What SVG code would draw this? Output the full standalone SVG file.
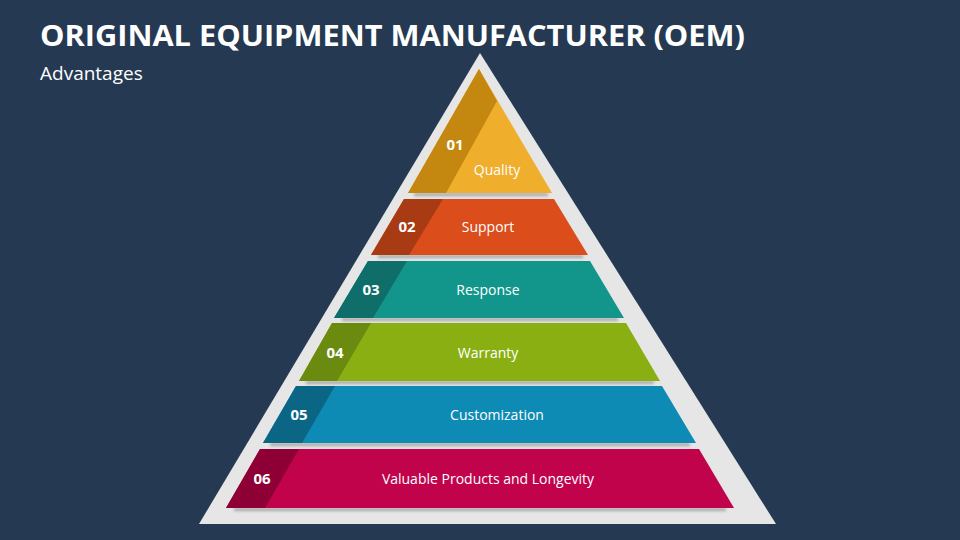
<svg xmlns="http://www.w3.org/2000/svg" width="960" height="540" viewBox="0 0 960 540">
<defs>
<style>
.t{font-family:"Open Sans","Liberation Sans",sans-serif;fill:#fff}
.n{font-weight:bold;font-size:15px;text-anchor:middle}
.l{font-size:14px;text-anchor:middle}
.sh{fill:#7a7a7a;opacity:.6;filter:url(#b)}
</style>
<filter id="b" x="-10%" y="-200%" width="120%" height="500%"><feGaussianBlur stdDeviation="1.5"/></filter>
</defs>
<rect width="960" height="540" fill="#253A52"/>
<text class="t" x="40" y="46" font-size="28" font-weight="bold" textLength="705" lengthAdjust="spacingAndGlyphs">ORIGINAL EQUIPMENT MANUFACTURER (OEM)</text>
<text class="t" x="40" y="80" font-size="19">Advantages</text>
<polygon points="480,53 776,524 199,524" fill="#E6E6E6"/>
<g id="shadows">
<rect class="sh" x="414" y="193" width="134" height="3"/>
<rect class="sh" x="378" y="255" width="205" height="3"/>
<rect class="sh" x="342" y="318" width="276" height="3"/>
<rect class="sh" x="306" y="381" width="348" height="3"/>
<rect class="sh" x="270" y="443" width="420" height="3"/>
<rect class="sh" x="234" y="508" width="492" height="3"/>
</g>
<g id="n1">
<polygon points="479,69 552,193 408,193" fill="#EFAE2B"/>
<polygon points="479,69 497,101 446,193 408,193" fill="#C4870F"/>
<text class="t n" x="455" y="150">01</text>
<text class="t l" x="497" y="175">Quality</text>
</g>
<g id="n2">
<polygon points="404,199 554,199 588,255 371,255" fill="#DB4E1C"/>
<polygon points="404,199 443,199 409,255 371,255" fill="#A83A14"/>
<text class="t n" x="407" y="232">02</text>
<text class="t l" x="488" y="232">Support</text>
</g>
<g id="n3">
<polygon points="368,261 590,261 624,318 334,318" fill="#12968B"/>
<polygon points="368,261 407,261 373,318 334,318" fill="#0F6E6A"/>
<text class="t n" x="371" y="295">03</text>
<text class="t l" x="488" y="295">Response</text>
</g>
<g id="n4">
<polygon points="332,323 626,323 660,381 299,381" fill="#8AAF12"/>
<polygon points="332,323 371,323 337,381 299,381" fill="#6B8A10"/>
<text class="t n" x="335" y="358">04</text>
<text class="t l" x="488" y="358">Warranty</text>
</g>
<g id="n5">
<polygon points="296,386 662,386 696,443 263,443" fill="#0E8BB5"/>
<polygon points="296,386 335,386 302,443 263,443" fill="#0B6585"/>
<text class="t n" x="299" y="420">05</text>
<text class="t l" x="497" y="420">Customization</text>
</g>
<g id="n6">
<polygon points="260,449 699,449 734,508 226,508" fill="#C0034B"/>
<polygon points="260,449 299,449 265,508 226,508" fill="#8E0035"/>
<text class="t n" x="262" y="484">06</text>
<text class="t l" x="488" y="484">Valuable Products and Longevity</text>
</g>
<g id="connectors"/>
</svg>
